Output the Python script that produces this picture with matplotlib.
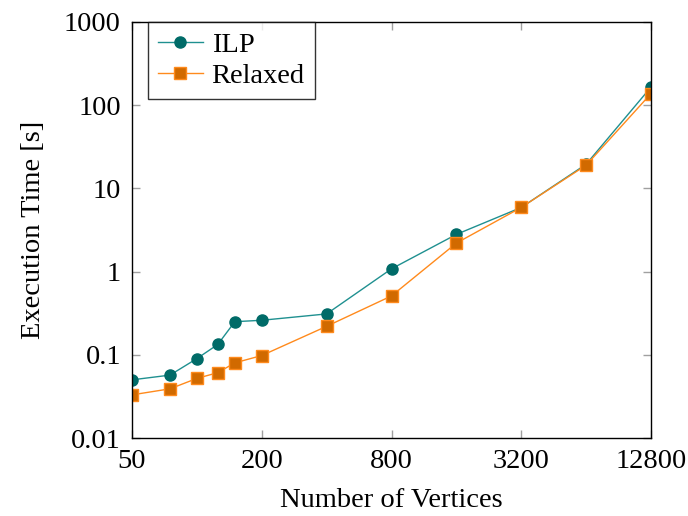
import numpy as np
import matplotlib.pyplot as plt
from matplotlib.ticker import FixedLocator, FixedFormatter, NullLocator

plt.rcParams['font.family'] = ['Liberation Serif', 'DejaVu Serif']
plt.rcParams['mathtext.fontset'] = 'stix'

vertices = [50, 75, 100, 125, 150, 200, 400, 800, 1600, 3200, 6400, 12800]
ilp_time = [0.05, 0.057, 0.09, 0.133, 0.25, 0.26, 0.31, 1.08, 2.8, 5.9, 19.5, 165]
relaxed_time = [0.033, 0.039, 0.052, 0.061, 0.080, 0.098, 0.22, 0.51, 2.2, 5.9, 19.0, 138]

x_ticks = [50, 200, 800, 3200, 12800]
y_ticks = [0.01, 0.1, 1, 10, 100, 1000]
y_labels = ['0.01', '0.1', '1', '10', '100', '1000']

fig = plt.figure(figsize=(6.88, 5.16), dpi=100)
ax = fig.add_axes([132/688, 1 - 438/516, (651-132)/688, (438-22)/516])

ax.plot(vertices, ilp_time, color='#1f9090', lw=1.0, marker='o', ms=8,
        mfc='#006b68', mec='#006b68', label='ILP')
ax.plot(vertices, relaxed_time, color='#ff8a1c', lw=1.0, marker='s', ms=8,
        mfc='#d16a00', mec='#ff8a1c', mew=1.0, label='Relaxed')

ax.set_xscale('log', base=2)
ax.set_yscale('log')
ax.set_xlim(50, 12800)
ax.set_ylim(0.01, 1000)

ax.xaxis.set_major_locator(FixedLocator(x_ticks))
ax.xaxis.set_major_formatter(FixedFormatter([str(v) for v in x_ticks]))
ax.xaxis.set_minor_locator(NullLocator())
ax.yaxis.set_major_locator(FixedLocator(y_ticks))
ax.yaxis.set_major_formatter(FixedFormatter(y_labels))
ax.yaxis.set_minor_locator(NullLocator())

ax.tick_params(which='both', direction='in', top=True, right=True,
               length=6, width=1.0, color='#a0a0a0', labelsize=20.5, pad=8)
for s in ax.spines.values():
    s.set_linewidth(1.0)

ax.set_xlabel('Number of Vertices', fontsize=20.5, labelpad=10)
ax.set_ylabel('Execution Time [s]', fontsize=20.5, labelpad=13)

leg = ax.legend(loc='upper left', bbox_to_anchor=(0.03, 1.0), fontsize=20.5,
                frameon=True, fancybox=False, edgecolor='black',
                borderpad=0.35, handlelength=1.6, labelspacing=0.18,
                borderaxespad=0.0, handletextpad=0.3)
leg.get_frame().set_linewidth(1.0)

fig.savefig('out.png', dpi=100)
